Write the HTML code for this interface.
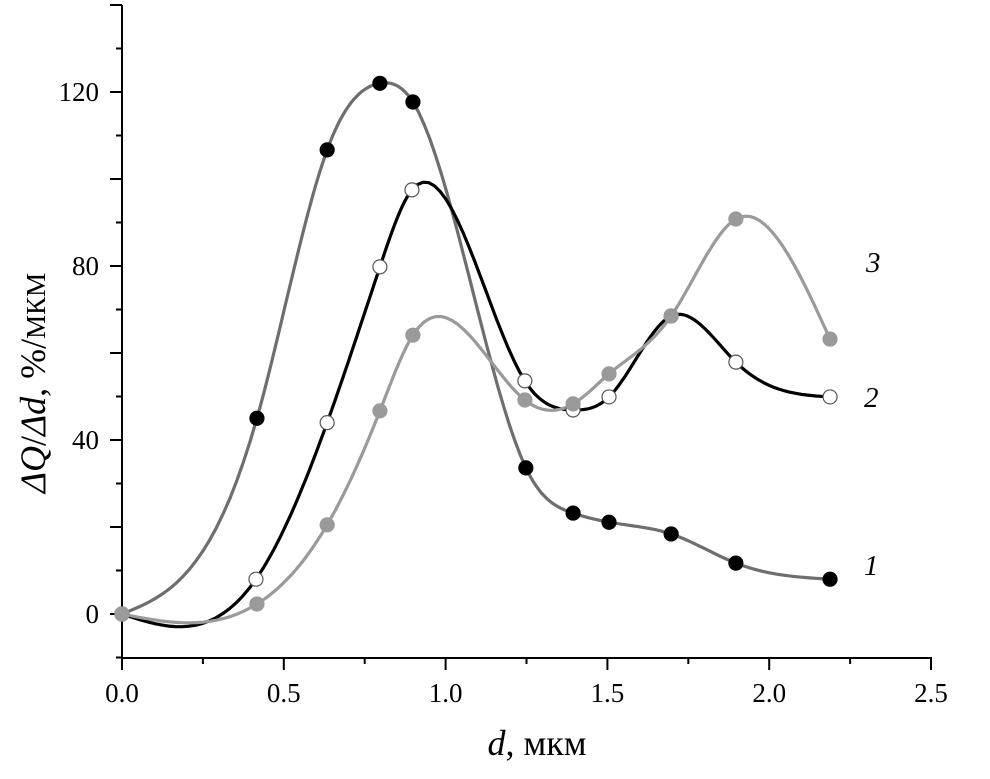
<!DOCTYPE html>
<html><head><meta charset="utf-8"><style>
body{margin:0;background:#fff}
svg text{font-family:"Liberation Serif",serif;fill:#000}
</style></head><body>
<svg width="990" height="774" viewBox="0 0 990 774" xmlns="http://www.w3.org/2000/svg">
<g id="axes"></g>
<g id="series"></g>
<text x="864" y="575" font-size="29" font-style="italic">1</text>
<text x="864" y="407" font-size="29" font-style="italic">2</text>
<text x="866" y="272" font-size="29" font-style="italic">3</text>
<text x="537" y="755" font-size="36" text-anchor="middle"><tspan font-style="italic">d</tspan>, мкм</text>
<text transform="translate(45,383) rotate(-90)" font-size="36" text-anchor="middle"><tspan font-style="italic">ΔQ</tspan>/<tspan font-style="italic">Δd</tspan>, %/<tspan font-size="27">МКМ</tspan></text>
</svg>
<script>
const xTicks=[0,0.5,1.0,1.5,2.0,2.5];
const xTickLabels=["0.0","0.5","1.0","1.5","2.0","2.5"];
const yTicks=[0,40,80,120];
const yTickLabels=["0","40","80","120"];
const s1x=[0,0.417,0.634,0.797,0.899,1.248,1.394,1.505,1.697,1.897,2.188];
const s1y=[0,45,106.7,122,117.7,33.6,23.2,21.1,18.4,11.7,8.0];
const s2x=[0,0.414,0.634,0.797,0.896,1.245,1.394,1.505,1.697,1.897,2.188];
const s2y=[0,8,44,79.8,97.5,53.6,46.9,49.9,68.5,57.9,49.9];
const s3x=[0,0.417,0.634,0.797,0.899,1.245,1.394,1.505,1.697,1.897,2.188];
const s3y=[0,2.3,20.5,46.7,64.1,49.2,48.3,55.2,68.5,90.8,63.2];
const NS="http://www.w3.org/2000/svg";
const X=v=>122+v*323.6, Y=v=>614-v*4.35;
function mk(t,a,p){const e=document.createElementNS(NS,t);for(const k in a)e.setAttribute(k,a[k]);p.appendChild(e);return e;}
const ax=document.getElementById('axes'), se=document.getElementById('series');
let e=mk('line',{x1:122,y1:5,x2:122,y2:658,stroke:'#000','stroke-width':2},ax);

e=mk('line',{x1:121,y1:658,x2:932,y2:658,stroke:'#000','stroke-width':2},ax);

for(let v=-10;v<=140;v+=10){const maj=v%20===0;e=mk('line',{x1:122-(maj?12:6),y1:Y(v),x2:122,y2:Y(v),stroke:'#000','stroke-width':2},ax);
}
for(let v=0;v<=2.5001;v+=0.25){const maj=Math.round(v*4)%2===0;e=mk('line',{x1:X(v),y1:658,x2:X(v),y2:658+(maj?12:6),stroke:'#000','stroke-width':2},ax);
}
xTicks.forEach((v,i)=>{e=mk('text',{x:X(v),y:702,'font-size':27,'text-anchor':'middle'},ax);e.textContent=xTickLabels[i];
});
yTicks.forEach((v,i)=>{e=mk('text',{x:99,y:Y(v)+9,'font-size':27,'text-anchor':'end'},ax);e.textContent=yTickLabels[i];
});
function spline(xs,ys){const n=xs.length,h=[],a=[],l=[1],mu=[0],z=[0],c=new Array(n).fill(0),b=[],d=[];
for(let i=0;i<n-1;i++)h[i]=xs[i+1]-xs[i];
for(let i=1;i<n-1;i++)a[i]=3/h[i]*(ys[i+1]-ys[i])-3/h[i-1]*(ys[i]-ys[i-1]);
for(let i=1;i<n-1;i++){l[i]=2*(xs[i+1]-xs[i-1])-h[i-1]*mu[i-1];mu[i]=h[i]/l[i];z[i]=(a[i]-h[i-1]*z[i-1])/l[i];}
for(let j=n-2;j>=0;j--){c[j]=(j>0?z[j]:0)-mu[j]*c[j+1];b[j]=(ys[j+1]-ys[j])/h[j]-h[j]*(c[j+1]+2*c[j])/3;d[j]=(c[j+1]-c[j])/(3*h[j]);}
let p='';for(let j=0;j<n-1;j++)for(let k=0;k<=20;k++){const t=h[j]*k/20,y=ys[j]+b[j]*t+c[j]*t*t+d[j]*t*t*t;p+=(p?'L':'M')+X(xs[j]+t).toFixed(1)+','+Y(y).toFixed(1);}return p;}
const S=[{x:s1x,y:s1y,line:'#6e6e6e',fill:'#000',stroke:'#000',n:'series-1'},
{x:s2x,y:s2y,line:'#000',fill:'#fff',stroke:'#555',n:'series-2'},
{x:s3x,y:s3y,line:'#9a9a9a',fill:'#9a9a9a',stroke:'#9a9a9a',n:'series-3'}];
S.forEach(s=>{e=mk('path',{d:spline(s.x,s.y),fill:'none',stroke:s.line,'stroke-width':3.2},se);
});
S.forEach(s=>{s.x.forEach((v,i)=>{e=mk('circle',{cx:X(v),cy:Y(s.y[i]),r:7,fill:s.fill,stroke:s.stroke,'stroke-width':1.2},se);
});});
</script>
</body></html>
